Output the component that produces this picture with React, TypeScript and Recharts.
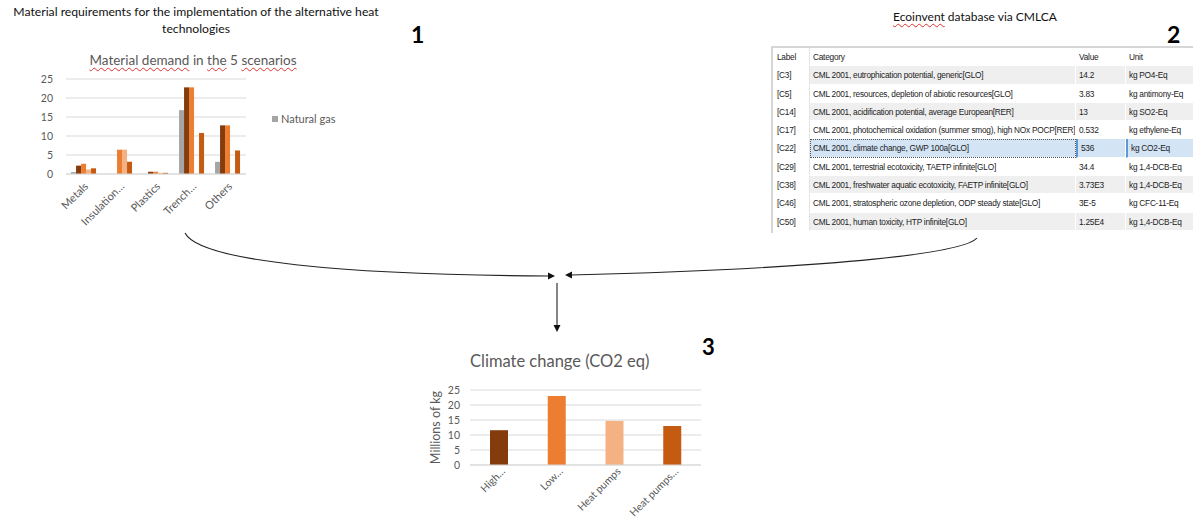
import React from 'react';
import { BarChart, Bar, XAxis, YAxis, CartesianGrid, Legend, Cell } from 'recharts';

// ---------- Chart 1: material demand ----------
const materialCategories = ['Metals', 'Insulation…', 'Plastics', 'Trench…', 'Others'];
const naturalGas = [0.5, 0, 0, 16.8, 3.2];
const highTemp = [2.2, 0, 0.6, 22.8, 12.8];
const lowTemp = [2.7, 6.4, 0.6, 22.8, 12.8];
const heatPumps = [1.2, 6.4, 0.3, 0, 0];
const heatPumpsPlus = [1.5, 3.2, 0.3, 10.8, 6.2];
const yTicks = [0, 5, 10, 15, 20, 25];

const seriesKeys = ['ng', 'high', 'low', 'hp', 'hpPlus'];
const seriesNames = ['Natural gas', 'High…', 'Low…', 'Heat pumps', 'Heat pumps…'];
const seriesColors = ['#A5A5A5', '#843C0C', '#ED7D31', '#F4B183', '#C55A11'];

// ---------- Chart 3: climate change ----------
const scenarioLabels = ['High…', 'Low…', 'Heat pumps', 'Heat pumps…'];
const co2Values = [11.6, 23.0, 14.7, 13.0];
const scenarioColors = ['#843C0C', '#ED7D31', '#F4B183', '#C55A11'];

// ---------- Table 2: Ecoinvent ----------
const tableHeader = ['Label', 'Category', 'Value', 'Unit'];
const tableLabels = ['[C3]', '[C5]', '[C14]', '[C17]', '[C22]', '[C29]', '[C38]', '[C46]', '[C50]'];
const tableCategories = [
  'CML 2001, eutrophication potential, generic[GLO]',
  'CML 2001, resources, depletion of abiotic resources[GLO]',
  'CML 2001, acidification potential, average European[RER]',
  'CML 2001, photochemical oxidation (summer smog), high NOx POCP[RER]',
  'CML 2001, climate change, GWP 100a[GLO]',
  'CML 2001, terrestrial ecotoxicity, TAETP infinite[GLO]',
  'CML 2001, freshwater aquatic ecotoxicity, FAETP infinite[GLO]',
  'CML 2001, stratospheric ozone depletion, ODP steady state[GLO]',
  'CML 2001, human toxicity, HTP infinite[GLO]',
];
const tableValues = ['14.2', '3.83', '13', '0.532', '536', '34.4', '3.73E3', '3E-5', '1.25E4'];
const tableUnits = ['kg PO4-Eq', 'kg antimony-Eq', 'kg SO2-Eq', 'kg ethylene-Eq', 'kg CO2-Eq', 'kg 1,4-DCB-Eq', 'kg 1,4-DCB-Eq', 'kg CFC-11-Eq', 'kg 1,4-DCB-Eq'];
const selectedRow = 4;

const materialData = materialCategories.map((c, i) => ({
  name: c,
  ng: naturalGas[i],
  high: highTemp[i],
  low: lowTemp[i],
  hp: heatPumps[i],
  hpPlus: heatPumpsPlus[i],
}));
const co2Data = scenarioLabels.map((s, i) => ({ name: s, value: co2Values[i] }));

const FONT = 'Lato, "Open Sans", sans-serif';
const GRAY = '#595959';

const RotTick = (props: any) => {
  const { x, y, payload, fontSize, dx, dy } = props;
  const px = x + dx;
  const py = y + dy;
  return (
    <text x={px} y={py} transform={`rotate(-45, ${px}, ${py})`} textAnchor="end" fill={GRAY} fontSize={fontSize} fontFamily={FONT}>
      {payload.value}
    </text>
  );
};

const Wavy = ({ children }: { children: React.ReactNode }) => (
  <span style={{ textDecoration: 'underline wavy #e03030', textDecorationThickness: '1px', textUnderlineOffset: '2px' }}>{children}</span>
);

const NatGasLegend = (props: any) => {
  const items = (props.payload || []).filter((p: any) => p.value === 'Natural gas');
  return (
    <div style={{ fontFamily: FONT, fontSize: 11, color: GRAY }}>
      {items.map((p: any) => (
        <div key={p.value} style={{ display: 'flex', alignItems: 'center' }}>
          <span style={{ display: 'inline-block', width: 6, height: 6, background: p.color, marginRight: 3 }} />
          {p.value}
        </div>
      ))}
    </div>
  );
};

export default function App() {
  return (
    <div style={{ position: 'absolute', left: 0, top: 0, width: 1193, height: 523, background: '#fff', overflow: 'hidden', fontFamily: FONT }}>
      {/* Section 1 headings */}
      <div style={{ position: 'absolute', left: 0, top: 3, width: 392, textAlign: 'center', fontSize: 12.2, lineHeight: '17px', color: '#111' }}>
        Material requirements for the implementation of the alternative heat technologies
      </div>
      <div style={{ position: 'absolute', left: 411, top: 20, fontSize: 23, fontWeight: 700, color: '#000' }}>1</div>
      <div style={{ position: 'absolute', left: 40, top: 52, width: 306, textAlign: 'center', fontSize: 13.5, color: GRAY, whiteSpace: 'nowrap' }}>
        <Wavy>Material demand</Wavy> in <Wavy>the</Wavy> 5 <Wavy>scenarios</Wavy>
      </div>

      <div style={{ position: 'absolute', left: 0, top: 70 }}>
        <BarChart width={350} height={160} data={materialData} margin={{ top: 9, right: 104, left: 0, bottom: 0 }} barCategoryGap="14%" barGap={0}>
          <CartesianGrid vertical={false} stroke="#D9D9D9" />
          <XAxis dataKey="name" height={56} axisLine={{ stroke: '#D9D9D9' }} tickLine={false} tickSize={0} tickMargin={0} interval={0}
            tick={(p: any) => <RotTick {...p} fontSize={11} dx={5} dy={13} />} />
          <YAxis width={66} domain={[0, 25]} ticks={yTicks} interval={0} axisLine={false} tickLine={false} tickSize={0} tickMargin={13}
            tick={{ fill: GRAY, fontSize: 10.5, fontFamily: FONT }} />
          {seriesKeys.map((k, i) => (
            <Bar key={k} dataKey={k} name={seriesNames[i]} fill={seriesColors[i]} isAnimationActive={false} />
          ))}
          <Legend layout="vertical" verticalAlign="middle" align="center" content={NatGasLegend}
            wrapperStyle={{ left: 272, right: 'auto', top: 42, width: 90 }} />
        </BarChart>
      </div>

      {/* Section 2 */}
      <div style={{ position: 'absolute', left: 893, top: 9, fontSize: 12, color: '#111', whiteSpace: 'nowrap' }}>
        <Wavy>Ecoinvent</Wavy> database via CMLCA
      </div>
      <div style={{ position: 'absolute', left: 1167, top: 20, fontSize: 23, fontWeight: 700, color: '#000' }}>2</div>

      <div style={{ position: 'absolute', left: 771, top: 46, width: 422, height: 187, borderLeft: '2px solid #d6d6d6', borderTop: '2px solid #d6d6d6', boxSizing: 'border-box', background: '#fff', overflow: 'hidden', fontFamily: '"Liberation Sans", Arial, sans-serif', fontSize: 8.3, letterSpacing: '-0.25px', color: '#222' }}>
        {[-1, ...tableLabels.map((_, i) => i)].map((r) => {
          const isHeader = r < 0;
          const sel = r === selectedRow;
          const shaded = !isHeader && r % 2 === 0 && !sel;
          const bg = sel ? '#d3e4f5' : shaded ? '#efefef' : '#fff';
          const cells = isHeader ? tableHeader : [tableLabels[r], tableCategories[r], tableValues[r], tableUnits[r]];
          const widths = [37, 266, 50, 80];
          return (
            <div key={r} style={{ display: 'flex', height: 18.3, alignItems: 'stretch' }}>
              {cells.map((c, ci) => (
                <div key={ci} style={{
                  width: widths[ci], flex: 'none', boxSizing: 'border-box', paddingLeft: ci === 0 ? 4 : 3,
                  lineHeight: '18px', whiteSpace: 'nowrap', overflow: 'hidden',
                  background: ci === 0 || isHeader ? '#fff' : bg,
                  borderRight: ci === 0 ? '1px solid #e4e4e4' : '1px solid #fff',
                  borderBottom: '1px solid #fff',
                  borderLeft: sel && ci > 1 ? '2px solid #5a9ad8' : undefined,
                  outline: sel && ci === 1 ? '1px dotted #555' : undefined,
                  outlineOffset: -1,
                }}>{c}</div>
              ))}
            </div>
          );
        })}
      </div>

      {/* Arrows */}
      <svg width={1193} height={523} style={{ position: 'absolute', left: 0, top: 0, pointerEvents: 'none' }}>
        <path d="M185,233 C200,262 350,275 549,276" fill="none" stroke="#222" strokeWidth={1.1} />
        <polygon points="555,276 548,272.5 548,279.5" fill="#111" />
        <path d="M977,238 C965,252 850,268 571,275" fill="none" stroke="#222" strokeWidth={1.1} />
        <polygon points="565,275 572,271.5 572,278.5" fill="#111" />
        <line x1={557} y1={283} x2={557} y2={326} stroke="#222" strokeWidth={1.1} />
        <polygon points="557,332 553.5,325 560.5,325" fill="#111" />
      </svg>

      {/* Section 3 */}
      <div style={{ position: 'absolute', left: 470, top: 351, fontSize: 16.5, color: GRAY, whiteSpace: 'nowrap' }}>Climate change (CO2 eq)</div>
      <div style={{ position: 'absolute', left: 702, top: 333, fontSize: 22, fontWeight: 700, color: '#000' }}>3</div>

      <div style={{ position: 'absolute', left: 420, top: 370 }}>
        <BarChart width={300} height={150} data={co2Data} margin={{ top: 20, right: 19, left: 0, bottom: 0 }}>
          <CartesianGrid vertical={false} stroke="#D9D9D9" />
          <XAxis dataKey="name" height={55} axisLine={{ stroke: '#D9D9D9' }} tickLine={false} tickSize={0} tickMargin={0} interval={0}
            tick={(p: any) => <RotTick {...p} fontSize={10.5} dx={7} dy={7} />} />
          <YAxis width={50} domain={[0, 25]} ticks={yTicks} interval={0} axisLine={false} tickLine={false} tickSize={0} tickMargin={10}
            tick={{ fill: GRAY, fontSize: 10.5, fontFamily: FONT }}
            label={{ value: 'Millions of kg', angle: -90, position: 'insideLeft', offset: 16, style: { textAnchor: 'middle', fill: GRAY, fontSize: 12.5, fontFamily: FONT } }} />
          <Bar dataKey="value" barSize={18} isAnimationActive={false}>
            {co2Data.map((d, i) => (
              <Cell key={d.name} fill={scenarioColors[i]} />
            ))}
          </Bar>
        </BarChart>
      </div>
    </div>
  );
}
